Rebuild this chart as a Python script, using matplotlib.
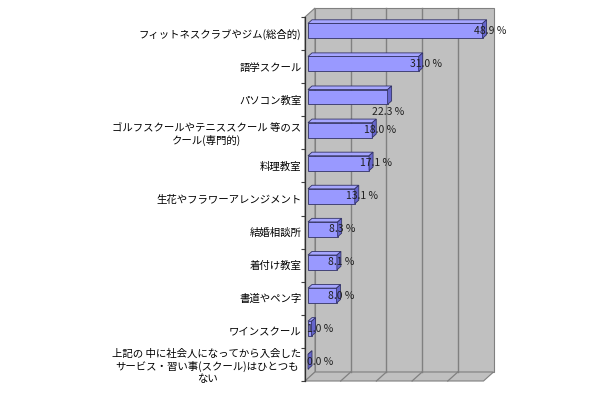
import matplotlib
matplotlib.use("Agg")
import matplotlib.pyplot as plt
from matplotlib.patches import Polygon
import numpy as np

plt.rcParams['font.family'] = ['Noto Sans CJK JP', 'DejaVu Sans']

# データ(%)
categories = [
    "フィットネスクラブやジム(総合的)",
    "語学スクール",
    "パソコン教室",
    "ゴルフスクールやテニススクール 等のス\nクール(専門的)",
    "料理教室",
    "生花やフラワーアレンジメント",
    "結婚相談所",
    "着付け教室",
    "書道やペン字",
    "ワインスクール",
    "上記の 中に社会人になってから入会した\nサービス・習い事(スクール)はひとつも\nない",
]
values = [48.9, 31.0, 22.3, 18.0, 17.1, 13.1, 8.3, 8.1, 8.0, 1.0, 0.0]
grid_values = [10, 20, 30, 40]
x_max = 50

# スタイル
WALL = "#c0c0c0"
WALL_EDGE = "#808080"
BAR_FRONT = "#9999ff"
BAR_TOP = "#a6a6ff"
BAR_SIDE = "#6666cc"
BAR_EDGE = "#333366"

fig = plt.figure(figsize=(6.1, 4.0), dpi=100)
ax = fig.add_axes([305 / 610, 19 / 400, 178.5 / 610, 364 / 400])
n = len(categories)
ax.set_xlim(0, x_max)
ax.set_ylim(n - 0.5, -0.5)

# 奥行き (データ単位)
px_x = 178.5 / x_max
px_y = 364 / n
DX = 10 / px_x
DY = -9 / px_y
y0, y1 = -0.5, n - 0.5

# 壁と床
back = Polygon([(DX, y0 + DY), (x_max + DX, y0 + DY), (x_max + DX, y1 + DY), (DX, y1 + DY)],
               closed=True, fc=WALL, ec=WALL_EDGE, lw=0.8, clip_on=False, zorder=1)
left = Polygon([(0, y0), (DX, y0 + DY), (DX, y1 + DY), (0, y1)],
               closed=True, fc=WALL, ec=WALL_EDGE, lw=0.8, clip_on=False, zorder=1)
floor = Polygon([(0, y1), (x_max, y1), (x_max + DX, y1 + DY), (DX, y1 + DY)],
                closed=True, fc=WALL, ec=WALL_EDGE, lw=0.8, clip_on=False, zorder=1)
for p in (back, left, floor):
    ax.add_patch(p)
ax.plot([0, 0], [y0, y1], color="#303030", lw=0.9, clip_on=False, zorder=2)

for g in grid_values:
    ax.plot([g + DX, g + DX], [y0 + DY, y1 + DY], color="#808080", lw=1.0, clip_on=False, zorder=2)
    ax.plot([g, g + DX], [y1, y1 + DY], color="#808080", lw=0.9, clip_on=False, zorder=2)

# 3D棒
f0, f1 = 0.3, 0.7
h = 0.45
d_x = (f1 - f0) * DX
d_y = (f1 - f0) * DY
ypos = np.arange(n) + f0 * DY
x_start = f0 * DX
ax.barh(ypos, values, height=h, left=x_start, color=BAR_FRONT, edgecolor=BAR_EDGE,
        linewidth=0.6, zorder=4, clip_on=False)
for yc, v in zip(ypos, values):
    top = yc - h / 2
    bot = yc + h / 2
    xe = x_start + v
    ax.add_patch(Polygon([(x_start, top), (xe, top), (xe + d_x, top + d_y), (x_start + d_x, top + d_y)],
                         closed=True, fc=BAR_TOP, ec=BAR_EDGE, lw=0.6, zorder=4, clip_on=False))
    ax.add_patch(Polygon([(xe, top), (xe, bot), (xe + d_x, bot + d_y), (xe + d_x, top + d_y)],
                         closed=True, fc=BAR_SIDE, ec=BAR_EDGE, lw=0.6, zorder=4, clip_on=False))

# 値ラベル
label_nudge = {2: (-2.0, 0.45)}
for i, (yc, v) in enumerate(zip(ypos, values)):
    dx_l, dy_l = label_nudge.get(i, (0.0, 0.0))
    lx = max(v - 2.4, -0.2)
    ax.text(x_start + lx + dx_l, yc + dy_l, f"{v:.1f} %", ha="left", va="center",
            fontsize=7.5, color="#202020", zorder=6)

# 軸
ax.set_yticks(np.arange(n))
ax.set_yticklabels(categories, fontsize=7.5, multialignment="center")
ax.set_yticks(np.arange(n + 1) - 0.5, minor=True)
ax.tick_params(axis="y", which="major", length=0, pad=2.5)
ax.tick_params(axis="y", which="minor", length=3, color="#404040", width=0.8)
ax.set_xticks([])
for s in ax.spines.values():
    s.set_visible(False)
ax.patch.set_visible(False)

fig.savefig("out.png", dpi=100)
